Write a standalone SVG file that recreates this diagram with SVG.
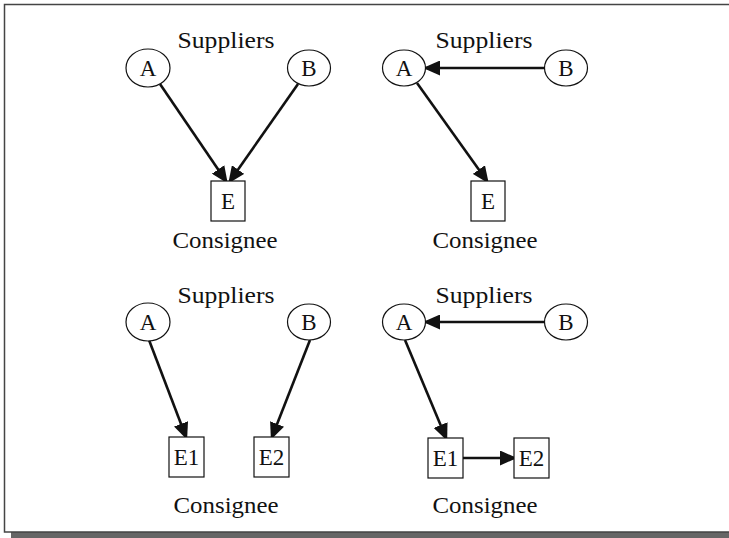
<svg xmlns="http://www.w3.org/2000/svg" width="729" height="538" viewBox="0 0 729 538">
<style>
.t{font-family:"Liberation Serif","Times New Roman",serif;font-size:23px;fill:#111;text-anchor:middle}
.n{fill:#fff;stroke:#111;stroke-width:1.2}
.c{stroke:#111;stroke-width:2.6;fill:none;marker-end:url(#ah)}
</style>
<defs>
<marker id="ah" markerUnits="userSpaceOnUse" markerWidth="17" markerHeight="15" viewBox="0 0 17 15" refX="14" refY="7.5" orient="auto">
<path d="M0,0 L17,7.5 L0,15 Z" fill="#111"/>
</marker>
</defs>
<rect x="11" y="532" width="730" height="6" fill="#666"/>
<rect x="4.5" y="4.5" width="740" height="527.5" fill="#fff" stroke="#444" stroke-width="1.5"/>

<g id="labels">
<text class="t" x="226" y="48" textLength="97" lengthAdjust="spacingAndGlyphs">Suppliers</text>
<text class="t" x="484" y="48" textLength="97" lengthAdjust="spacingAndGlyphs">Suppliers</text>
<text class="t" x="226" y="303" textLength="97" lengthAdjust="spacingAndGlyphs">Suppliers</text>
<text class="t" x="484" y="303" textLength="97" lengthAdjust="spacingAndGlyphs">Suppliers</text>
<text class="t" x="225" y="248" textLength="105" lengthAdjust="spacingAndGlyphs">Consignee</text>
<text class="t" x="485" y="248" textLength="105" lengthAdjust="spacingAndGlyphs">Consignee</text>
<text class="t" x="226" y="513" textLength="105" lengthAdjust="spacingAndGlyphs">Consignee</text>
<text class="t" x="485" y="513" textLength="105" lengthAdjust="spacingAndGlyphs">Consignee</text>
</g>

<g id="connectors">
<line class="c" x1="160" y1="84" x2="226" y2="181"/>
<line class="c" x1="298" y1="84" x2="230" y2="181"/>
<line class="c" x1="545" y1="68" x2="426" y2="68"/>
<line class="c" x1="417" y1="83" x2="487" y2="181"/>
<line class="c" x1="149" y1="340" x2="186" y2="437"/>
<line class="c" x1="310" y1="340" x2="272" y2="437"/>
<line class="c" x1="545" y1="322" x2="426" y2="322"/>
<line class="c" x1="405" y1="340" x2="446" y2="438"/>
<line class="c" x1="463" y1="458" x2="514" y2="458"/>
</g>

<g id="tl-A"><ellipse class="n" cx="148" cy="68" rx="22" ry="19"/><text class="t" x="148" y="76">A</text></g>
<g id="tl-B"><ellipse class="n" cx="309" cy="68" rx="21.5" ry="18"/><text class="t" x="309" y="76">B</text></g>
<g id="tl-E"><rect class="n" x="211" y="181" width="34" height="40"/><text class="t" x="228" y="209">E</text></g>

<g id="tr-A"><ellipse class="n" cx="404" cy="68" rx="21.5" ry="18"/><text class="t" x="404" y="76">A</text></g>
<g id="tr-B"><ellipse class="n" cx="566" cy="68" rx="21.5" ry="18"/><text class="t" x="566" y="76">B</text></g>
<g id="tr-E"><rect class="n" x="471" y="181" width="34" height="40"/><text class="t" x="488" y="209">E</text></g>

<g id="bl-A"><ellipse class="n" cx="148" cy="322" rx="22" ry="19"/><text class="t" x="148" y="330">A</text></g>
<g id="bl-B"><ellipse class="n" cx="309" cy="322" rx="21.5" ry="18"/><text class="t" x="309" y="330">B</text></g>
<g id="bl-E1"><rect class="n" x="169" y="437" width="35" height="40"/><text class="t" x="186.5" y="465">E1</text></g>
<g id="bl-E2"><rect class="n" x="254" y="437" width="35" height="40"/><text class="t" x="271.5" y="465">E2</text></g>

<g id="br-A"><ellipse class="n" cx="404" cy="322" rx="21.5" ry="18"/><text class="t" x="404" y="330">A</text></g>
<g id="br-B"><ellipse class="n" cx="566" cy="322" rx="21.5" ry="18"/><text class="t" x="566" y="330">B</text></g>
<g id="br-E1"><rect class="n" x="428" y="438" width="35" height="40"/><text class="t" x="445.5" y="466">E1</text></g>
<g id="br-E2"><rect class="n" x="514" y="438" width="35" height="40"/><text class="t" x="531.5" y="466">E2</text></g>
</svg>
